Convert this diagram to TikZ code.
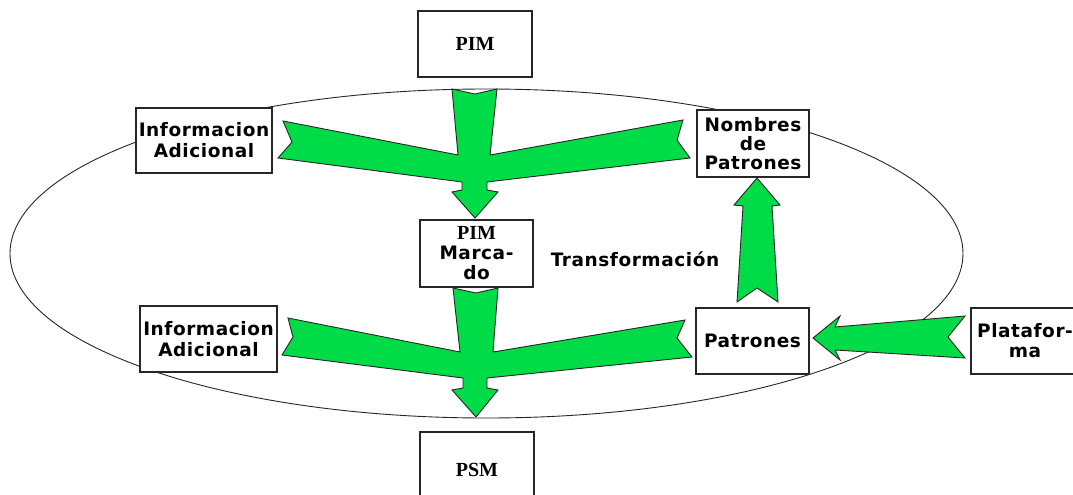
\documentclass[tikz,border=0pt]{standalone}
\usepackage{fontspec}
\newfontfamily\lab{DejaVu Sans}[LetterSpace=3]
\newfontfamily\ser{Liberation Serif}
\definecolor{arrowgreen}{RGB}{0,219,72}
\begin{document}
\begin{tikzpicture}[x=1pt,y=-1pt,
  box/.style={draw=black!85,line width=1.2pt,fill=white,inner sep=0pt,
    align=center,font=\lab\bfseries\fontsize{18.5}{21}\selectfont},
  serbox/.style={box,font=\ser\bfseries\fontsize{20}{22}\selectfont},
  fat/.style={fill=arrowgreen,draw=black!85,line width=0.9pt,line join=miter},
  ring/.style={draw=black!85,line width=0.9pt}]
\useasboundingbox (0,0) rectangle (1073,495);
\clip (0,0) rectangle (1073,495);

% surrounding ellipse
\draw[ring] (486.5,253.5) ellipse [x radius=476.5, y radius=164.5];

% top merge arrow: PIM + side inputs into marked PIM
\draw[fat] (452,89) -- (475,94) -- (497,89) -- (490,155) -- (683,120) -- (677,140)
  -- (690,158) -- (487,182) -- (487,190) -- (498,192) -- (475,218) -- (452,192)
  -- (462,190) -- (462,182) -- (278,158) -- (292,142) -- (283,121) -- (458,155) -- cycle;

% bottom merge arrow: marked PIM + side inputs into PSM
\draw[fat] (453,288) -- (476,293) -- (498,288) -- (493,352) -- (685,320) -- (677,338)
  -- (692,357) -- (487,378) -- (487,388) -- (498,390) -- (476,417) -- (452,390)
  -- (463,388) -- (463,378) -- (282,355) -- (293,337) -- (288,318) -- (460,352) -- cycle;

% Patrones up to Nombres de Patrones
\draw[fat] (757,178) -- (780,205) -- (772,206) -- (778,302) -- (757,288) -- (737,302)
  -- (743,206) -- (734,205) -- cycle;

% Plataforma into Patrones
\draw[fat] (813,338) -- (840,316) -- (835,327) -- (965,316) -- (948,337) -- (965,358)
  -- (835,350) -- (840,360) -- cycle;

% boxes
\node[serbox,minimum width=114pt,minimum height=66pt] (pim) at (475,44) {PIM};
\node[box,minimum width=136pt,minimum height=65pt] (infoA) at (204,140.5)
  {Informacion\\Adicional};
\node[box,minimum width=112pt,minimum height=67pt,
  font=\lab\bfseries\fontsize{18.5}{19}\selectfont] (nombres) at (753,143.5)
  {Nombres\\de\\Patrones};
\node[box,minimum width=113pt,minimum height=67pt,
  font=\lab\bfseries\fontsize{18.5}{20}\selectfont] (marcado) at (476.5,253.5)
  {{\ser\bfseries\fontsize{20}{20}\selectfont PIM}\\Marca-\\do};
\node[box,minimum width=137pt,minimum height=66pt] (infoB) at (208.5,339)
  {Informacion\\Adicional};
\node[box,minimum width=113pt,minimum height=66pt] (patrones) at (752.5,341) {Patrones};
\node[box,minimum width=108pt,minimum height=66pt,
  font=\lab\bfseries\fontsize{18.5}{20}\selectfont] (plataforma) at (1025,341)
  {Platafor-\\ma};
\node[serbox,minimum width=114pt,minimum height=76pt] (psm) at (477,470) {PSM};

\node[font=\lab\bfseries\fontsize{18.5}{20}\selectfont,inner sep=0pt] (trans) at (635,259)
  {Transformación};
\end{tikzpicture}
\end{document}
